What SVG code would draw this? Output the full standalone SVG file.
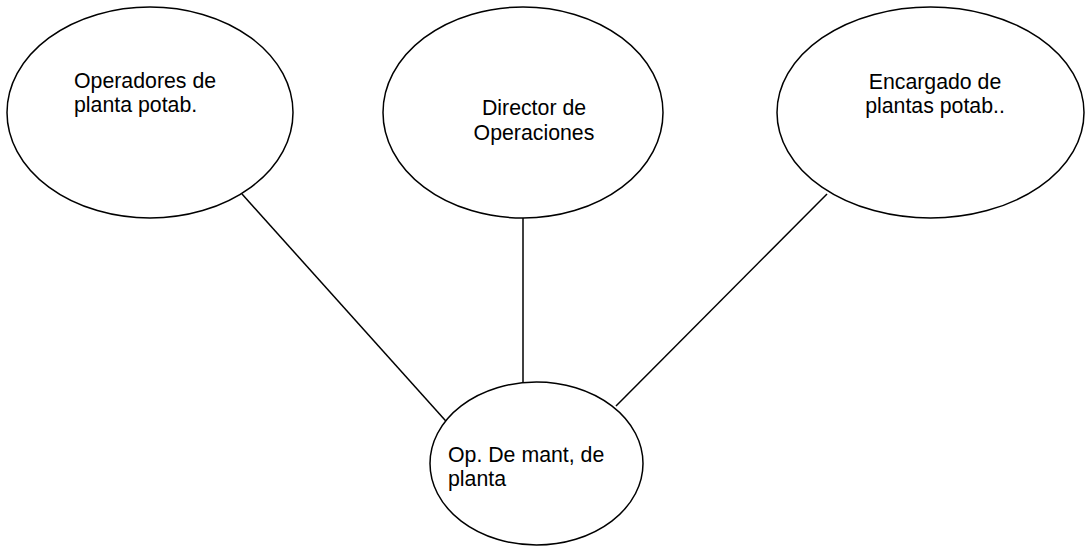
<svg xmlns="http://www.w3.org/2000/svg" width="1086" height="546" viewBox="0 0 1086 546">
<style>
.n{fill:#fff;stroke:#000;stroke-width:1.5}
.c{stroke:#000;stroke-width:1.5;fill:none}
text{font-family:"Liberation Sans",Arial,sans-serif;font-size:21.3px;fill:#000}
</style>
<rect width="1086" height="546" fill="#fff"/>
<g id="connectors">
<line class="c" x1="242" y1="194" x2="453" y2="429"/>
<line class="c" x1="523" y1="218" x2="523" y2="382"/>
<line class="c" x1="827" y1="194" x2="616" y2="406"/>
</g>
<g id="n1">
<ellipse class="n" cx="150" cy="112.5" rx="143" ry="105.5"/>
<text x="74" y="88">Operadores de</text>
<text x="74" y="112">planta potab.</text>
</g>
<g id="n2">
<ellipse class="n" cx="523" cy="112.5" rx="140" ry="105.5"/>
<text x="534" y="115" text-anchor="middle">Director de</text>
<text x="534" y="140" text-anchor="middle">Operaciones</text>
</g>
<g id="n3">
<ellipse class="n" cx="930.5" cy="112.5" rx="153.5" ry="105.5"/>
<text x="935" y="89" text-anchor="middle">Encargado de</text>
<text x="935" y="113" text-anchor="middle">plantas potab..</text>
</g>
<g id="n4">
<ellipse class="n" cx="536.5" cy="463.5" rx="106.5" ry="81.5"/>
<text x="448" y="462">Op. De mant, de</text>
<text x="448" y="486">planta</text>
</g>
</svg>
